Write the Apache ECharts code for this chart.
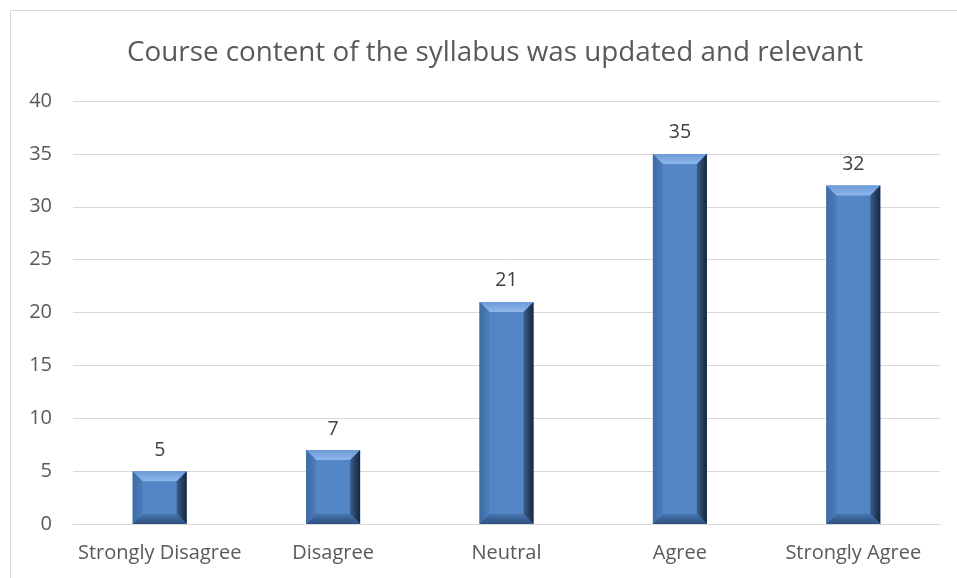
<!DOCTYPE html>
<html><head><meta charset="utf-8">
<script src="https://cdn.jsdelivr.net/npm/echarts@6/dist/echarts.min.js"></script>
<style>html,body{margin:0;padding:0;background:#fff}#c{width:957px;height:578px}</style>
</head><body><div id="c"></div>
<script>
const titleText = 'Course content of the syllabus was updated and relevant';
const categories = ['Strongly Disagree','Disagree','Neutral','Agree','Strongly Agree'];
const values = [5, 7, 21, 35, 32];
const yTicks = [0,5,10,15,20,25,30,35,40];

const chart = echarts.init(document.getElementById('c'));
const FONT = 'Open Sans';
const BW = 54, BV = 10;
chart.setOption({
  animation:false,
  graphic:[{type:'rect',shape:{x:10.5,y:10.5,width:1000,height:1000},style:{fill:'none',stroke:'#D9D9D9',lineWidth:1},silent:true,z:-10}],
  title:{text:titleText,left:122,top:34,textStyle:{fontFamily:FONT,fontSize:27.8,fontWeight:'normal',color:'#595959'}},
  grid:{left:73,right:17,top:101,bottom:54},
  xAxis:{type:'category',data:categories,axisTick:{show:false},
    axisLine:{lineStyle:{color:'#D9D9D9'}},
    axisLabel:{interval:0,fontFamily:FONT,fontSize:20,color:'#595959',margin:19}},
  yAxis:{type:'value',min:yTicks[0],max:yTicks[yTicks.length-1],interval:5,
    axisLabel:{fontFamily:FONT,fontSize:20,color:'#595959',margin:21},
    splitLine:{lineStyle:{color:'#D9D9D9'}},axisLine:{show:false},axisTick:{show:false}},
  series:[{type:'custom',data:values.map((v,i)=>[i,v]),
    renderItem:function(params,api){
      const top = api.coord([api.value(0),api.value(1)]);
      const base = api.coord([api.value(0),0]);
      const x0 = top[0]-BW/2, x1 = top[0]+BW/2, y0 = top[1], y1 = base[1];
      const b = Math.min(BV,(y1-y0)/2);
      return {type:'group',children:[
        {type:'rect',shape:{x:x0,y:y0,width:BW,height:y1-y0},style:{fill:'#5486C6'},
          textContent:{style:{text:String(api.value(1)),fontFamily:FONT,fontSize:19.5,fill:'#404040'}},
          textConfig:{position:'top',distance:11}},
        {type:'polygon',shape:{points:[[x0,y0],[x1,y0],[x1-b,y0+b],[x0+b,y0+b]]},
          style:{fill:new echarts.graphic.LinearGradient(0,0,0,1,[{offset:0,color:'#6A99D6'},{offset:1,color:'#8FB8EC'}])}},
        {type:'polygon',shape:{points:[[x1,y0],[x1,y1],[x1-b,y1-b],[x1-b,y0+b]]},
          style:{fill:new echarts.graphic.LinearGradient(0,0,1,0,[{offset:0,color:'#3B5E8C'},{offset:1,color:'#15263C'}])}},
        {type:'polygon',shape:{points:[[x0,y0],[x0+b,y0+b],[x0+b,y1-b],[x0,y1]]},
          style:{fill:new echarts.graphic.LinearGradient(0,0,1,0,[{offset:0,color:'#3F6BA3'},{offset:1,color:'#4C7DBC'}])}},
        {type:'polygon',shape:{points:[[x0,y1],[x0+b,y1-b],[x1-b,y1-b],[x1,y1]]},
          style:{fill:new echarts.graphic.LinearGradient(0,0,0,1,[{offset:0,color:'#4674AE'},{offset:1,color:'#2E5080'}])}}
      ]};
    }}]
});
</script></body></html>
